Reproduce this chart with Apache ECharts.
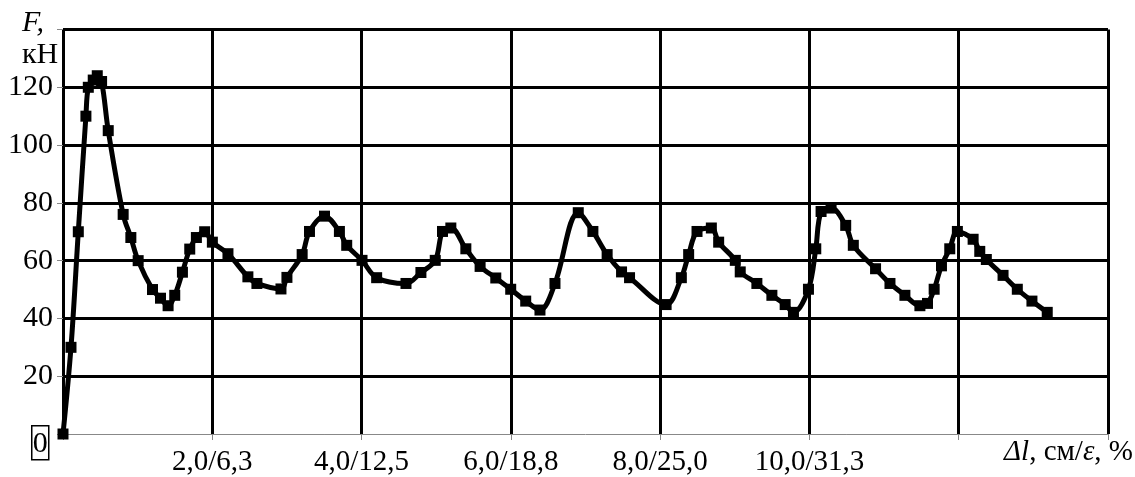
<!DOCTYPE html>
<html>
<head>
<meta charset="utf-8">
<script src="https://cdn.jsdelivr.net/npm/echarts@6/dist/echarts.min.js"></script>
<style>
html,body{margin:0;padding:0;background:#fff;}
#chart{width:1135px;height:477px;}
</style>
</head>
<body>
<div id="chart"></div>
<script>
// Displacement Δl, cm
const displacement = [0, 0.107, 0.205, 0.307, 0.339, 0.405, 0.459, 0.517, 0.606, 0.806, 0.909, 1.007, 1.199, 1.306, 1.408, 1.497, 1.6, 1.698, 1.787, 1.898, 2.001, 2.21, 2.477, 2.598, 2.92, 3.0, 3.204, 3.302, 3.503, 3.703, 3.801, 4.006, 4.202, 4.595, 4.795, 4.987, 5.084, 5.196, 5.397, 5.588, 5.798, 5.998, 6.199, 6.39, 6.591, 6.903, 7.099, 7.29, 7.483, 7.59, 8.08, 8.284, 8.382, 8.494, 8.686, 8.784, 9.007, 9.073, 9.296, 9.497, 9.675, 9.786, 9.987, 10.085, 10.156, 10.29, 10.486, 10.588, 10.886, 11.079, 11.279, 11.48, 11.582, 11.671, 11.769, 11.88, 11.982, 12.193, 12.282, 12.37, 12.594, 12.785, 12.981, 13.186];
// Force F, kN
const force = [0, 30, 70, 110, 120, 122.5, 124, 122, 105, 76, 68, 60, 50, 47, 44.4, 48, 56, 64, 68, 70, 66.4, 62.4, 54.4, 52.1, 50.2, 54.2, 62.1, 70.1, 75.4, 70.1, 65.3, 60.1, 54.1, 52.1, 55.9, 60.1, 70.1, 71.3, 64.1, 58, 54, 50.1, 46, 42.9, 52.1, 76.6, 70.1, 62.1, 56.1, 54.1, 44.8, 54.1, 62.1, 70.1, 71.3, 66.4, 60.1, 56.1, 52.1, 48, 44.8, 42.1, 50.1, 64.1, 77, 78.2, 72.2, 65.3, 57.2, 52.1, 48, 44.4, 45.2, 50.1, 58.2, 64.1, 70.1, 67.4, 63.2, 60.4, 54.9, 50.1, 46, 42.1];
// X tick labels (Δl, cm / ε, %)
const xTickValues = [2, 4, 6, 8, 10];
const xTickLabels = ['2,0/6,3', '4,0/12,5', '6,0/18,8', '8,0/25,0', '10,0/31,3'];
const yTitle1 = 'F,';
const yTitle2 = 'кН';
const zeroLabel = '0';

const FONT = '"Liberation Serif", "DejaVu Serif", serif';
const chart = echarts.init(document.getElementById('chart'));
const pts = displacement.map((x, i) => [x, force[i]]);

chart.setOption({
  animation: false,
  backgroundColor: '#fff',
  grid: { left: 63, right: 27, top: 29.5, bottom: 41, containLabel: false },
  xAxis: {
    type: 'value', min: 0, max: 14, interval: 2,
    axisLine: { show: true, lineStyle: { color: '#888', width: 1 } },
    axisTick: { show: true, length: 6, lineStyle: { color: '#888', width: 1 } },
    axisLabel: {
      margin: 14, fontFamily: FONT, fontSize: 29, color: '#000',
      formatter: v => { const i = xTickValues.indexOf(v); return i >= 0 ? xTickLabels[i] : ''; }
    },
    splitLine: { show: true, lineStyle: { color: '#000', width: 3 } }
  },
  yAxis: {
    type: 'value', min: 0, max: 140, interval: 20,
    axisLine: { show: false },
    axisTick: { show: true, length: 6, lineStyle: { color: '#888', width: 1 } },
    axisLabel: {
      margin: 10, fontFamily: FONT, fontSize: 30, color: '#000',
      formatter: v => (v === 0 || v === 140) ? '' : String(v)
    },
    splitLine: { show: true, lineStyle: { color: ['rgba(0,0,0,0)', '#000', '#000', '#000', '#000', '#000', '#000', '#000'], width: 3 } }
  },
  graphic: [
    { type: 'text', left: 22, top: 8, z: 10, style: { text: yTitle1, font: 'italic 30px ' + FONT, fill: '#000' } },
    { type: 'text', left: 22, top: 40, z: 10, style: { text: yTitle2, font: '30px ' + FONT, fill: '#000' } },
    { type: 'text', left: 31, top: 425, z: 10, style: {
        text: '{z|' + zeroLabel + '}',
        rich: { z: { font: '30px ' + FONT, fill: '#000', borderColor: '#000', borderWidth: 1.5, padding: [3, 1, 1, 1], lineHeight: 32 } }
    } },
    { type: 'text', right: 2, top: 438, z: 10, style: {
        text: '{i|Δl}{n|, см/}{i|ε}{n|, %}',
        rich: { i: { font: 'italic 29px ' + FONT, fill: '#000' }, n: { font: '29px ' + FONT, fill: '#000' } }
    } }
  ],
  series: [{
    type: 'line', data: pts, smooth: 0.35,
    symbol: 'rect', symbolSize: 11,
    lineStyle: { color: '#000', width: 5 },
    itemStyle: { color: '#000' },
    z: 5
  }]
});
</script>
</body>
</html>
